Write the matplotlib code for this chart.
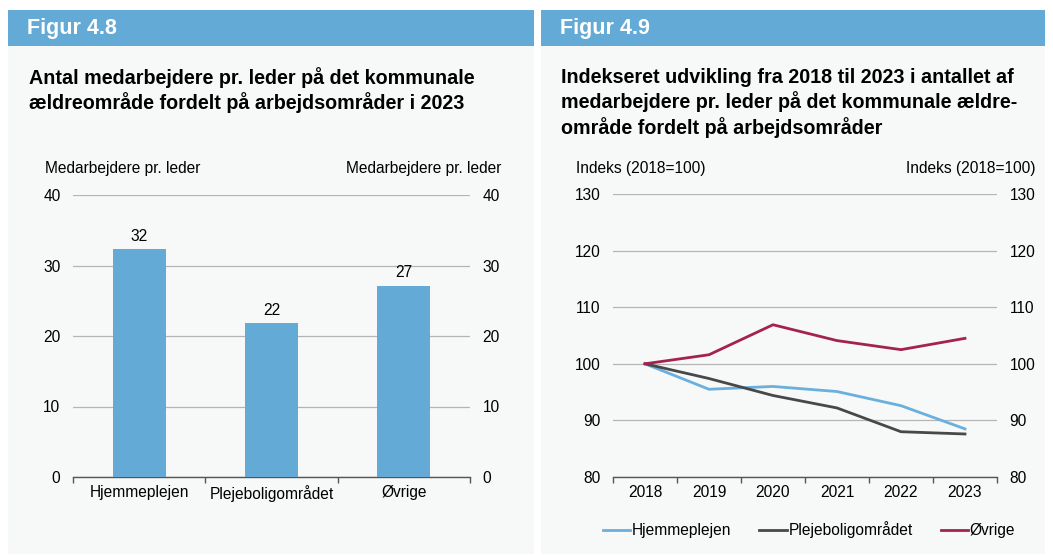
import matplotlib
matplotlib.use("Agg")
import matplotlib.pyplot as plt
from matplotlib.patches import Rectangle
import numpy as np

plt.rcParams['font.family'] = ['Liberation Sans', 'DejaVu Sans']

# ---- data ----
bar_categories = ["Hjemmeplejen", "Plejeboligområdet", "Øvrige"]
bar_values = [32.3, 21.8, 27.1]

years = ["2018", "2019", "2020", "2021", "2022", "2023"]
hjemmeplejen = [100, 95.5, 96.0, 95.1, 92.6, 88.5]
plejebolig = [100, 97.4, 94.4, 92.2, 88.0, 87.6]
ovrige = [100, 101.6, 106.9, 104.1, 102.5, 104.5]

left_yticks = [0, 10, 20, 30, 40]
right_yticks = [80, 90, 100, 110, 120, 130]

BLUE = "#64aad6"
LBLUE = "#6aafdd"
DARK = "#474849"
RED = "#a3234c"
PANEL = "#f7f8f8"
GRID = "#b5b5b5"
AXIS = "#555555"
FS = 11.2

W, H = 1053, 555
fig = plt.figure(figsize=(W / 100, H / 100), dpi=100)
fig.patch.set_facecolor("white")

def fx(px):
    return px / W

def fy(py):
    return 1 - py / H

# panels
for x0, x1, label in [(8, 534, "Figur 4.8"), (541, 1045, "Figur 4.9")]:
    fig.patches.append(Rectangle((fx(x0), fy(554)), fx(x1 - x0), (554 - 10) / H,
                                 transform=fig.transFigure, facecolor=PANEL,
                                 edgecolor="none", zorder=-2))
    fig.patches.append(Rectangle((fx(x0), fy(45.5)), fx(x1 - x0), 35.5 / H,
                                 transform=fig.transFigure, facecolor=BLUE,
                                 edgecolor="none", zorder=-1))
    fig.text(fx(x0 + 19), fy(28.5), label, color="white", fontsize=15.5,
             fontweight="bold", va="center", ha="left")

fig.text(fx(29), fy(90), "Antal medarbejdere pr. leder på det kommunale\nældreområde fordelt på arbejdsområder i 2023",
         fontsize=14.2, fontweight="bold", va="center", ha="left", linespacing=1.28)
fig.text(fx(561), fy(103), "Indekseret udvikling fra 2018 til 2023 i antallet af\nmedarbejdere pr. leder på det kommunale ældre-\nområde fordelt på arbejdsområder",
         fontsize=14.2, fontweight="bold", va="center", ha="left", linespacing=1.28)

def style_axes(ax, ylim, yticks):
    ax.set_facecolor("none")
    ax.set_zorder(2)
    ax.set_ylim(*ylim)
    ax.set_yticks(yticks)
    for s in ["left", "right", "top"]:
        ax.spines[s].set_visible(False)
    ax.spines["bottom"].set_color(AXIS)
    ax.spines["bottom"].set_linewidth(1.0)
    ax.yaxis.grid(True, color=GRID, linewidth=0.9)
    ax.set_axisbelow(True)
    ax.tick_params(axis="y", length=0, labelsize=FS, pad=9,
                   labelleft=True, labelright=True)
    ax.tick_params(axis="x", which="major", length=0, labelsize=FS, pad=6)
    ax.tick_params(axis="x", which="minor", length=4, color=AXIS, width=1.0)

# ---- left bar chart ----
ax1 = fig.add_axes([fx(73), fy(477), fx(470 - 73), (477 - 195) / H])
x = np.arange(len(bar_categories))
ax1.bar(x, bar_values, width=0.4, color=BLUE, zorder=3)
ax1.set_xlim(-0.5, len(bar_categories) - 0.5)
ax1.set_xticks(x)
ax1.set_xticklabels(bar_categories)
ax1.set_xticks(np.arange(len(bar_categories) + 1) - 0.5, minor=True)
style_axes(ax1, (0, 40), left_yticks)
for xi, v in zip(x, bar_values):
    ax1.annotate(f"{v:.0f}", (xi, v), xytext=(0, 4), textcoords="offset points",
                 ha="center", va="bottom", fontsize=FS)
fig.text(fx(45), fy(168), "Medarbejdere pr. leder", fontsize=FS, ha="left", va="center")
fig.text(fx(501), fy(168), "Medarbejdere pr. leder", fontsize=FS, ha="right", va="center")

# ---- right line chart ----
ax2 = fig.add_axes([fx(613), fy(477), fx(997 - 613), (477 - 194) / H])
xl = np.arange(len(years))
l1, = ax2.plot(xl, hjemmeplejen, color=LBLUE, lw=2.0, label="Hjemmeplejen", zorder=3)
l2, = ax2.plot(xl, plejebolig, color=DARK, lw=2.0, label="Plejeboligområdet", zorder=3)
l3, = ax2.plot(xl, ovrige, color=RED, lw=2.0, label="Øvrige", zorder=3)
ax2.set_xlim(-0.5, len(years) - 0.5)
ax2.set_xticks(xl)
ax2.set_xticklabels(years)
ax2.set_xticks(np.arange(len(years) + 1) - 0.5, minor=True)
style_axes(ax2, (80, 130), right_yticks)
fig.text(fx(576), fy(168), "Indeks (2018=100)", fontsize=FS, ha="left", va="center")
fig.text(fx(1035), fy(168), "Indeks (2018=100)", fontsize=FS, ha="right", va="center")

fig.legend(handles=[l1, l2, l3], loc="center", bbox_to_anchor=(fx(809), fy(530)),
           ncol=3, frameon=False, fontsize=FS, handlelength=1.75,
           handletextpad=0.1, columnspacing=1.8)

fig.savefig("out.png", dpi=100, facecolor="white")
